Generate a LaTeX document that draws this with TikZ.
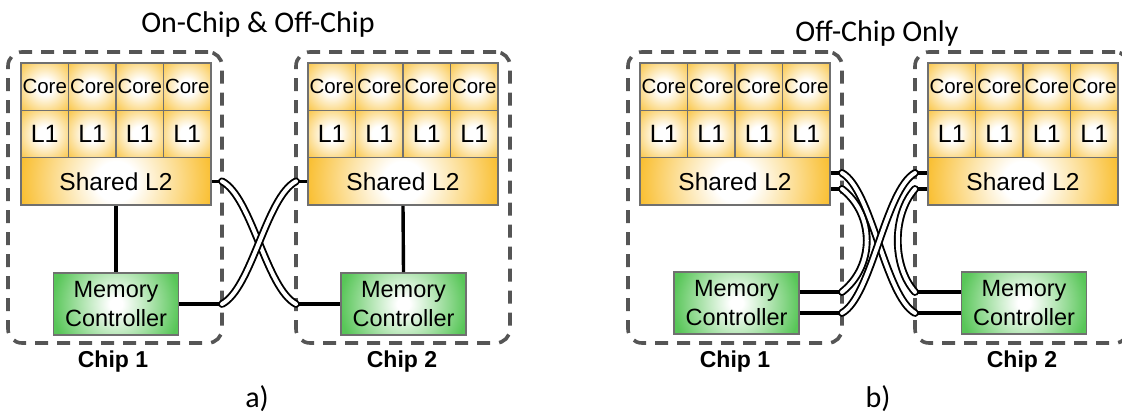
\documentclass[tikz,border=0pt]{standalone}
\usepackage{fontspec}
\setmainfont{Liberation Sans}
\newfontfamily\calib{Carlito}
\definecolor{ocol}{RGB}{249,188,40}
\definecolor{gcol}{RGB}{88,198,88}
\definecolor{bordergray}{RGB}{112,112,112}
\definecolor{dashgray}{RGB}{85,85,85}
\pgfdeclareradialshading{oglow}{\pgfpoint{0bp}{0bp}}{color(0bp)=(white); color(5bp)=(white); color(25bp)=(ocol); color(50bp)=(ocol)}
\pgfdeclareradialshading{gglow}{\pgfpoint{0bp}{0bp}}{color(0bp)=(white); color(2.5bp)=(white); color(25bp)=(gcol); color(50bp)=(gcol)}
\newcommand\mkchip[2]{%
  \foreach \i in {1,...,4} {
    \node[cell, font=\fontsize{20.5}{24}\selectfont] (#1c\i) at ({#2+(\i-0.5)*47.5}, 86.67) {Core};
    \node[cell, font=\fontsize{25}{28}\selectfont] (#1l\i) at ({#2+(\i-0.5)*47.5}, 134) {L1};
  }
  \node[cell, minimum width=190pt, glow={ocol}{oglow}{100pt}, font=\fontsize{24.5}{28}\selectfont] (#1s) at ({#2+95}, 181.33) {Shared L2};
}
\begin{document}
\begin{tikzpicture}[x=1pt, y=-1pt,
  glow/.style n args={3}{path picture={
      \fill[#1] (path picture bounding box.south west) rectangle (path picture bounding box.north east);
      \shade[shading=#2] (path picture bounding box.center) circle[radius=#3];}},
  cell/.style={draw=bordergray, line width=1.6pt, glow={ocol}{oglow}{38pt}, minimum width=47.5pt, minimum height=47.33pt, inner sep=0pt},
  mc/.style={draw=bordergray, line width=1.6pt, glow={gcol}{gglow}{64pt}, minimum width=125pt, minimum height=62pt, inner sep=0pt, align=center, font=\fontsize{23.5}{29}\selectfont},
  chipbox/.style={draw=dashgray, line width=3.6pt, dash pattern=on 13pt off 9pt, rounded corners=14pt, minimum width=214pt, minimum height=291pt, inner sep=0pt},
  chiplabel/.style={anchor=base, font=\fontsize{23}{27}\selectfont\bfseries},
  title/.style={anchor=base, font=\calib\fontsize{30}{36}\selectfont},
  wire/.style={draw=black, line width=3.4pt},
  link/.style={draw=black, line width=1.9pt, double=white, double distance=4pt, line cap=round}]
\useasboundingbox (0,0) rectangle (1122,417);
\clip (0,0) rectangle (1122,417);

% ---------- panel a ----------
\node[chipbox] (A1box) at (115,197.5) {};
\node[chipbox] (A2box) at (403,197.5) {};
\mkchip{A1}{21}
\mkchip{A2}{308}
\node[mc] (A1mc) at (116,304) {Memory\\Controller};
\node[mc] (A2mc) at (403.5,304) {Memory\\Controller};
\node[title] (ta) at (258,33) {On-Chip \& Off-Chip};
\node[chiplabel] (A1lab) at (113,367) {Chip 1};
\node[chiplabel] (A2lab) at (402,367) {Chip 2};
\node[title] (la) at (257,407) {a)};

\coordinate (a1t) at (222,181.33);
\coordinate (a1b) at (222,304);
\coordinate (a2t) at (296,181.33);
\coordinate (a2b) at (296,304);
\draw[wire] (A1s.south) -- (A1mc.north);
\draw[wire] (A2s.south) -- (A2mc.north);
\draw[wire] (A1s.east) -- (a1t);
\draw[wire] (A1mc.east) -- (a1b);
\draw[wire] (a2t) -- (A2s.west);
\draw[wire] (a2b) -- (A2mc.west);
\draw[link] (a1t) .. controls +(30,16) and +(-30,-16) .. (a2b);
\draw[link] (a1b) .. controls +(30,-16) and +(-30,16) .. (a2t);

% ---------- panel b ----------
\node[chipbox] (B1box) at (735,197.5) {};
\node[chipbox] (B2box) at (1022,197.5) {};
\mkchip{B1}{640}
\mkchip{B2}{928}
\node[mc] (B1mc) at (736.5,303) {Memory\\Controller};
\node[mc] (B2mc) at (1024,303) {Memory\\Controller};
\node[title] (tb) at (877,42) {Off-Chip Only};
\node[chiplabel] (B1lab) at (735,367) {Chip 1};
\node[chiplabel] (B2lab) at (1022,367) {Chip 2};
\node[title] (lb) at (878,407) {b)};

\coordinate (b1t) at (842,173);
\coordinate (b1u) at (842,189);
\coordinate (b1m) at (842,292);
\coordinate (b1n) at (842,313);
\coordinate (b2t) at (915,173);
\coordinate (b2u) at (915,189);
\coordinate (b2m) at (915,292);
\coordinate (b2n) at (915,313);
\draw[wire] (b1t -| B1s.east) -- (b1t);
\draw[wire] (b1u -| B1s.east) -- (b1u);
\draw[wire] (b1m -| B1mc.east) -- (b1m);
\draw[wire] (b1n -| B1mc.east) -- (b1n);
\draw[wire] (b2t) -- (b2t -| B2s.west);
\draw[wire] (b2u) -- (b2u -| B2s.west);
\draw[wire] (b2m) -- (b2m -| B2mc.west);
\draw[wire] (b2n) -- (b2n -| B2mc.west);
\draw[link] (b1u) .. controls +(33,26) and +(33,-26) .. (b1m);
\draw[link] (b2u) .. controls +(-23,26) and +(-23,-26) .. (b2m);
\draw[link] (b1t) .. controls +(30,17) and +(-30,-17) .. (b2n);
\draw[link] (b2t) .. controls +(-30,17) and +(30,-17) .. (b1n);
\end{tikzpicture}
\end{document}
